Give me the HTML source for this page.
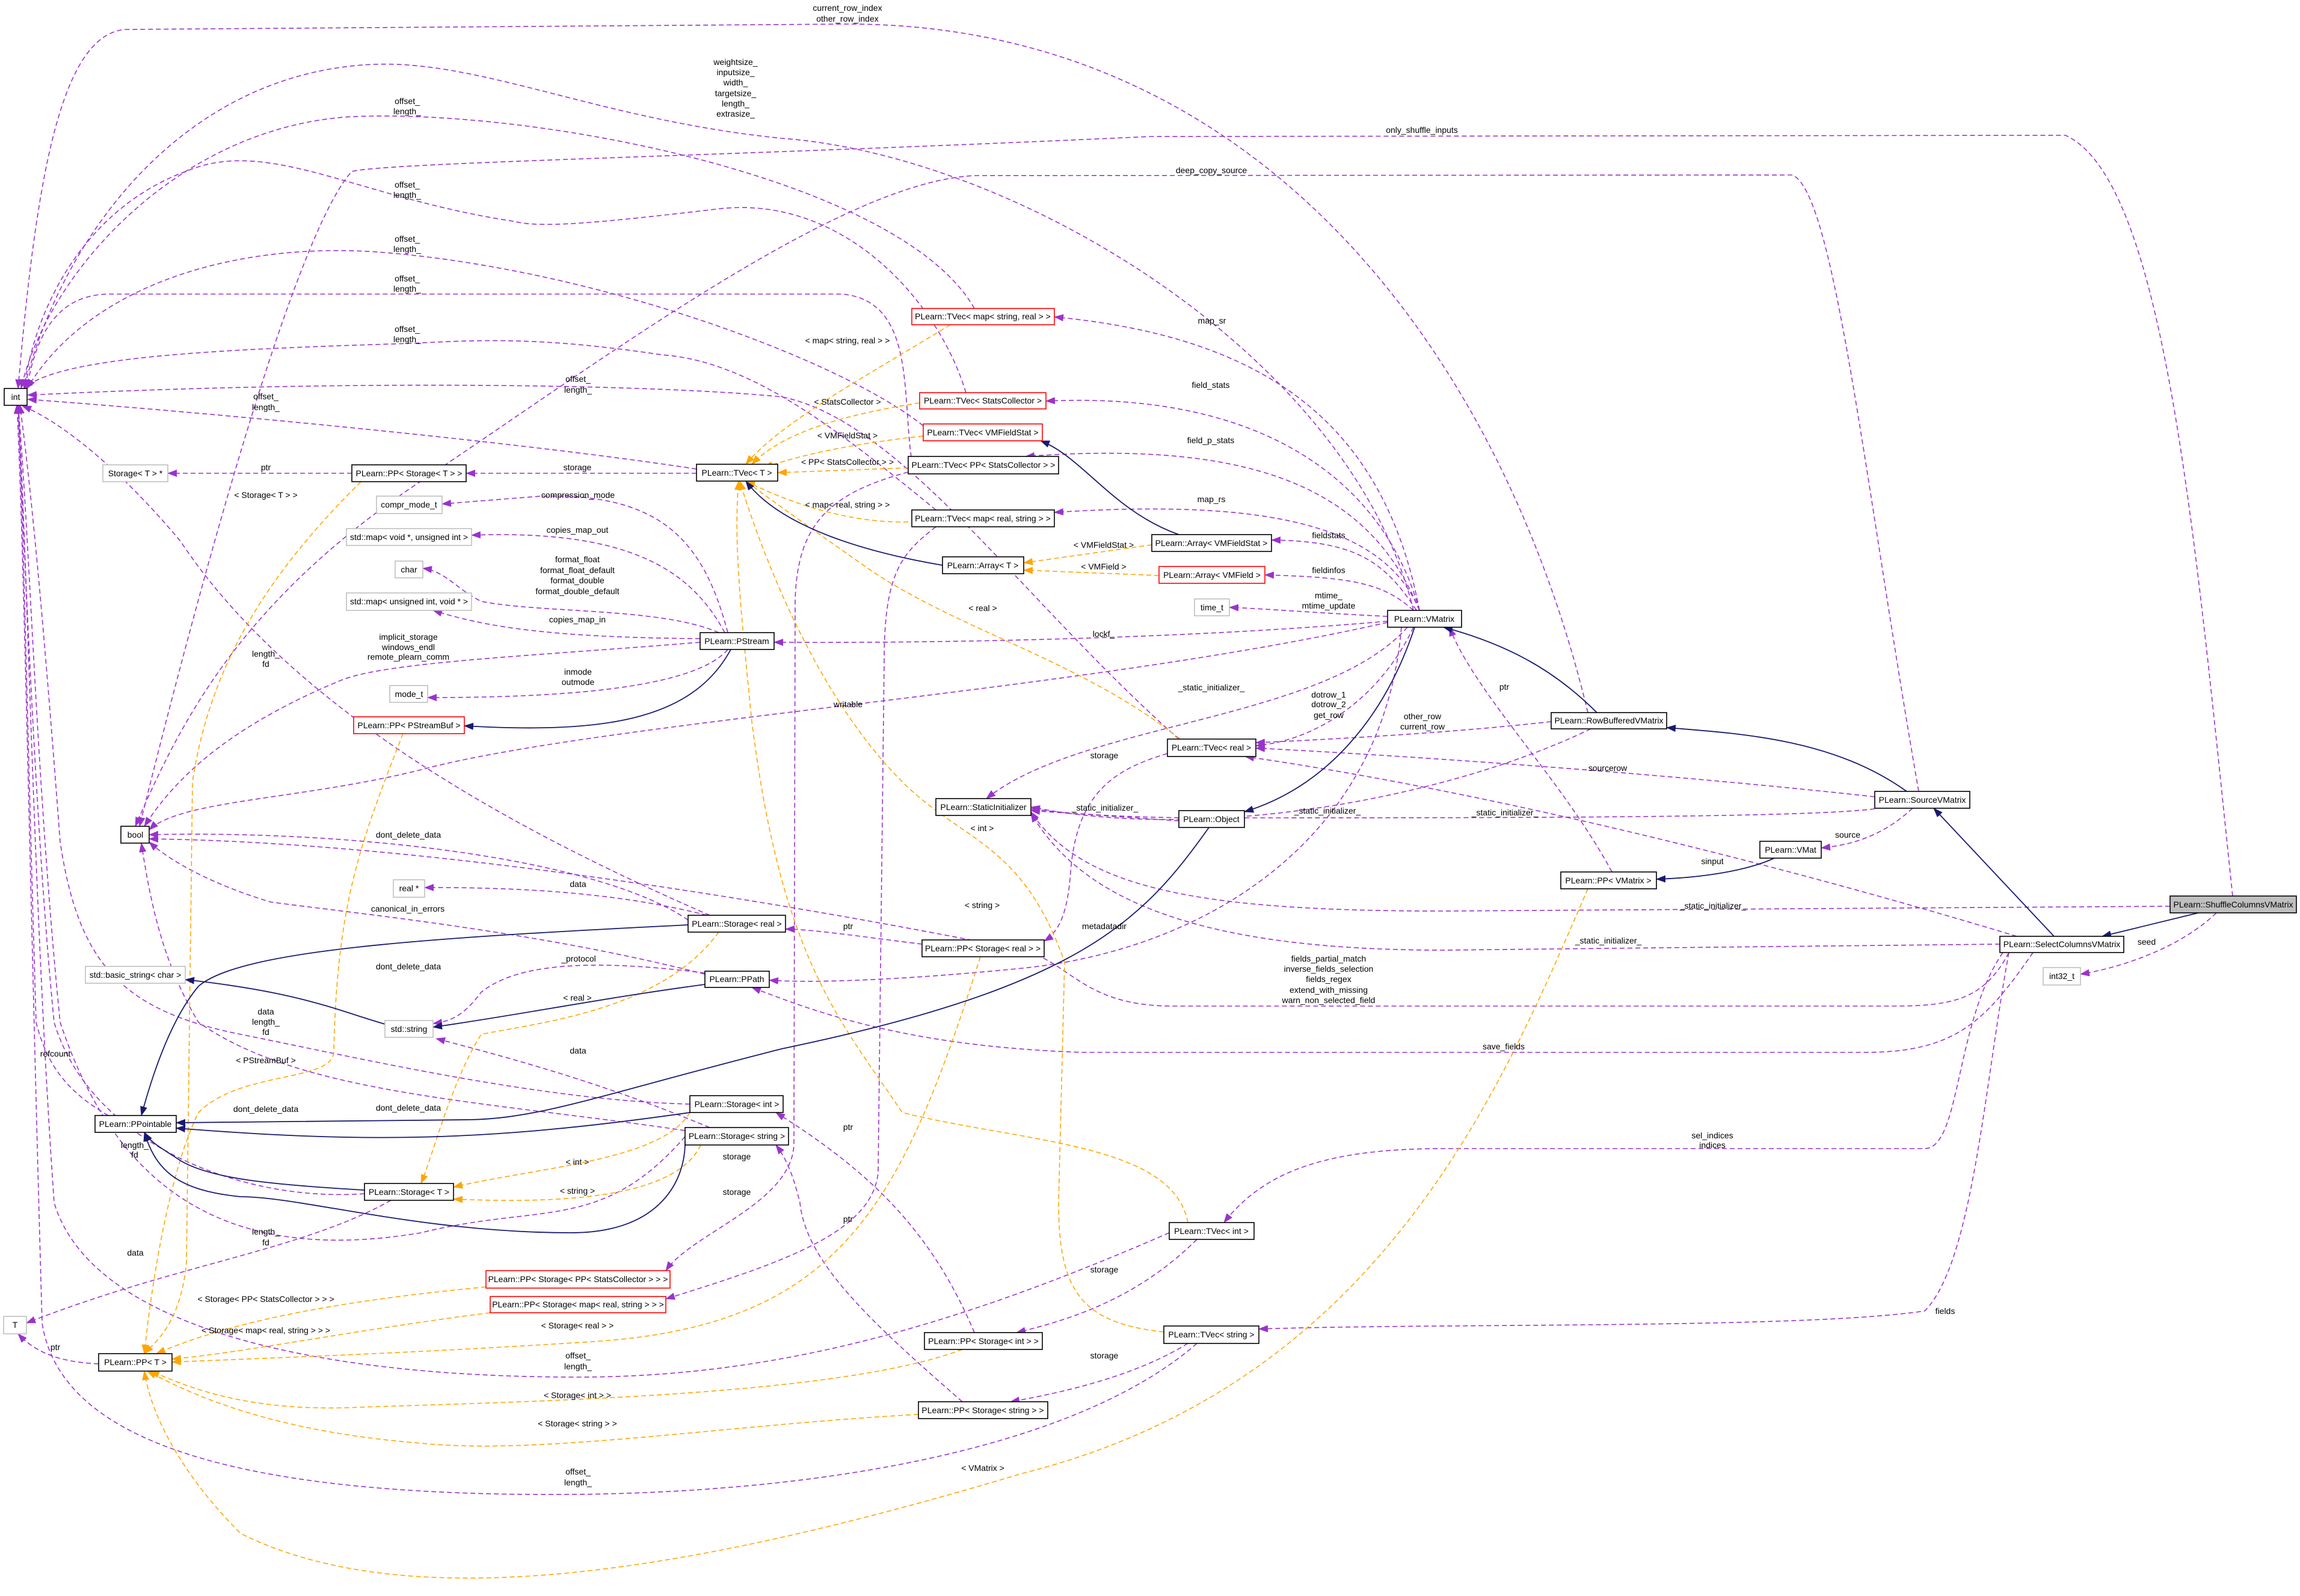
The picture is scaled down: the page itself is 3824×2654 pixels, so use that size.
<!DOCTYPE html>
<html><head><meta charset="utf-8"><style>
html,body{margin:0;padding:0;background:#fff;}
svg{display:block;}
text{font-family:"Liberation Sans",sans-serif;font-size:14px;fill:#000;}
.p{fill:none;stroke:#9a32cd;stroke-width:1.6;stroke-dasharray:8,5;}
.o{fill:none;stroke:#ffa500;stroke-width:1.6;stroke-dasharray:8,5;}
.n{fill:none;stroke:#191970;stroke-width:1.8;}
.b{fill:#fff;stroke:#000;stroke-width:1.6;}
.g{fill:#fff;stroke:#bfbfbf;stroke-width:1.6;}
.r{fill:#fff;stroke:#ff0000;stroke-width:1.6;}
.s{fill:#bfbfbf;stroke:#000;stroke-width:1.6;}
.l{text-anchor:middle;}
</style></head><body>
<svg width="3824" height="2654" viewBox="0 0 3824 2654" xmlns="http://www.w3.org/2000/svg">
<defs>
<marker id="mp" markerUnits="userSpaceOnUse" markerWidth="16" markerHeight="12" refX="15" refY="6" orient="auto"><path d="M0,0 L16,6 L0,12 z" fill="#9a32cd"/></marker>
<marker id="mo" markerUnits="userSpaceOnUse" markerWidth="16" markerHeight="12" refX="15" refY="6" orient="auto"><path d="M0,0 L16,6 L0,12 z" fill="#ffa500"/></marker>
<marker id="mn" markerUnits="userSpaceOnUse" markerWidth="16" markerHeight="12" refX="15" refY="6" orient="auto"><path d="M0,0 L16,6 L0,12 z" fill="#191970"/></marker>
</defs>
<g marker-end="url(#mp)">
<path class="p" d="M2640,1185 C2500,600 2100,40 1409,40 L207,49 C100,60 60,300 30,646"/>
<path class="p" d="M2350,1015 C2250,600 1700,260 1300,230 C1000,200 800,100 622,107 C300,120 100,400 40,646"/>
<path class="p" d="M1620,513 C1500,300 900,180 585,194 C300,210 80,450 35,646"/>
<path class="p" d="M1606,653 C1560,500 1400,320 1189,348 C1000,370 900,380 854,368 C600,330 450,230 317,282 C150,340 60,500 40,646"/>
<path class="p" d="M1535,708 C1400,600 1000,450 640,420 C400,400 150,470 45,646"/>
<path class="p" d="M1515,760 C1500,650 1520,500 1400,489 L183,489 C100,489 60,550 45,646"/>
<path class="p" d="M1556,848 C1400,720 1250,600 1100,590 C900,560 800,565 683,571 C400,580 100,590 40,646"/>
<path class="p" d="M1960,1229 C1700,1000 1500,700 1300,660 C1100,640 600,630 46,657"/>
<path class="p" d="M1158,780 C900,740 400,690 46,664"/>
<path class="p" d="M606,1985 C400,2000 150,1900 90,1700 C60,1400 40,900 30,673"/>
<path class="p" d="M1180,1522 C900,1400 500,1200 300,900 C200,780 100,700 37,675"/>
<path class="p" d="M1147,1836 C900,1830 600,1760 400,1720 C200,1680 130,1600 100,1400 C70,1000 50,800 33,673"/>
<path class="p" d="M1139,1890 C1000,2050 900,2000 700,2050 C400,2100 200,2000 100,1700 C60,1300 50,900 30,673"/>
<path class="p" d="M1944,2050 C1600,2200 1300,2290 961,2290 C500,2290 150,2200 90,2000 C55,1500 45,900 30,673"/>
<path class="p" d="M1990,2234 C1800,2400 1400,2480 961,2485 C400,2490 100,2400 70,2200 C50,1500 40,900 28,673"/>
<path class="p" d="M180,1855 C120,1820 80,1780 60,1700 C45,1200 40,900 30,673"/>
<path class="p" d="M650,1996 C500,2080 300,2100 44,2200"/>
<path class="p" d="M164,2268 C100,2265 60,2250 30,2218"/>
<path class="p" d="M2307,1035 C1800,1150 1000,1200 700,1280 C500,1330 300,1330 248,1380"/>
<path class="p" d="M1164,1068 C900,1090 650,1100 570,1130 C400,1200 300,1280 240,1374"/>
<path class="p" d="M1144,1530 C1000,1430 600,1380 248,1388"/>
<path class="p" d="M1172,1620 C900,1550 600,1520 450,1500 C350,1470 280,1430 248,1400"/>
<path class="p" d="M1139,1880 C800,1830 500,1820 330,1700 C270,1600 250,1500 235,1402"/>
<path class="p" d="M3712,1490 C3650,900 3600,300 3434,225 L1912,227 C1200,260 650,270 585,285 C480,400 300,1100 232,1374"/>
<path class="p" d="M3190,1316 C3100,800 3050,320 2980,291 L1622,292 C1400,300 1000,600 700,800 C400,1000 300,1200 225,1374"/>
<path class="p" d="M2360,1015 C2300,700 2100,560 1753,527"/>
<path class="p" d="M2360,1015 C2300,800 2100,650 1739,667"/>
<path class="p" d="M2360,1015 C2280,820 2100,730 1705,759"/>
<path class="p" d="M2360,1015 C2300,870 2100,830 1753,852"/>
<path class="p" d="M2355,1015 C2300,930 2250,900 2114,898"/>
<path class="p" d="M2350,1015 C2300,970 2250,960 2103,956"/>
<path class="p" d="M2307,1025 C2200,1020 2100,1012 2044,1010"/>
<path class="p" d="M2307,1033 C2000,1060 1600,1070 1287,1068"/>
<path class="p" d="M2350,1043 C2300,1150 2200,1230 2088,1240"/>
<path class="p" d="M2340,1043 C2200,1200 1800,1200 1640,1328"/>
<path class="p" d="M2330,1043 C2300,1400 2000,1580 1700,1610 C1500,1630 1350,1635 1279,1630"/>
<path class="p" d="M2680,1450 C2600,1300 2450,1150 2410,1043"/>
<path class="p" d="M2579,1200 C2400,1220 2200,1230 2088,1235"/>
<path class="p" d="M2645,1212 C2400,1330 2000,1400 1714,1342"/>
<path class="p" d="M3117,1325 C2800,1290 2400,1260 2088,1244"/>
<path class="p" d="M3117,1345 C3000,1360 2500,1360 2000,1360 C1850,1360 1750,1350 1714,1345"/>
<path class="p" d="M3180,1344 C3130,1390 3080,1405 3028,1410"/>
<path class="p" d="M3608,1507 L2400,1515 C2000,1515 1800,1480 1714,1350"/>
<path class="p" d="M3685,1518 C3620,1580 3520,1610 3459,1620"/>
<path class="p" d="M3353,1557 C3000,1450 2500,1320 2070,1258"/>
<path class="p" d="M3325,1570 L2400,1580 C2000,1580 1800,1500 1714,1352"/>
<path class="p" d="M3340,1584 C3300,1660 3250,1673 3150,1673 L1950,1673 C1800,1673 1780,1600 1700,1580 C1300,1500 700,1400 248,1395"/>
<path class="p" d="M3380,1584 C3300,1700 3250,1750 3100,1750 L1800,1750 C1500,1740 1350,1680 1250,1642"/>
<path class="p" d="M3330,1584 C3250,1700 3260,1910 3200,1910 L2400,1910 C2200,1910 2100,1950 2035,2033"/>
<path class="p" d="M3340,1584 C3300,1800 3280,2100 3200,2180 C3000,2210 2400,2200 2093,2210"/>
<path class="p" d="M585,787 L279,787"/>
<path class="p" d="M1158,787 L775,787"/>
<path class="p" d="M1210,1052 C1170,900 1100,820 900,825 L735,838"/>
<path class="p" d="M1205,1052 C1150,950 1050,880 784,890"/>
<path class="p" d="M1195,1052 C1100,1010 900,1020 800,1000 C760,980 740,950 703,945"/>
<path class="p" d="M1164,1062 C900,1060 800,1040 720,1015"/>
<path class="p" d="M1210,1080 C1150,1150 900,1160 711,1160"/>
<path class="p" d="M1175,1522 C1050,1490 900,1475 706,1476"/>
<path class="p" d="M1172,1618 C950,1590 850,1610 800,1650 C770,1690 750,1698 720,1702"/>
<path class="p" d="M1180,1875 C1000,1800 850,1760 725,1727"/>
<path class="p" d="M1960,1365 L1714,1348"/>
<path class="p" d="M1941,1253 C1850,1280 1790,1320 1780,1450 C1775,1520 1760,1550 1736,1565"/>
<path class="p" d="M1533,1570 C1450,1560 1350,1545 1306,1545"/>
<path class="p" d="M1990,2061 C1900,2150 1800,2190 1690,2216"/>
<path class="p" d="M1975,2234 C1900,2280 1800,2310 1680,2331"/>
<path class="p" d="M1620,2216 C1550,2050 1450,1950 1290,1850"/>
<path class="p" d="M1600,2331 C1450,2200 1340,2100 1330,2000 C1320,1960 1310,1930 1290,1904"/>
<path class="p" d="M1510,785 C1380,820 1325,870 1322,1000 L1320,1900 C1320,2000 1150,2050 1107,2113"/>
<path class="p" d="M1556,876 C1500,920 1470,950 1470,1100 L1460,1950 C1450,2050 1300,2100 1107,2160"/>
</g>
<g marker-end="url(#mo)">
<path class="o" d="M1147,1850 C1100,1930 900,1940 754,1974"/>
<path class="o" d="M1165,1904 C1120,2000 900,2000 754,1994"/>
<path class="o" d="M1195,1550 C1100,1680 900,1700 800,1720 C750,1800 720,1920 700,1968"/>
<path class="o" d="M1580,540 C1450,620 1300,700 1240,772"/>
<path class="o" d="M1529,670 C1400,690 1300,720 1250,772"/>
<path class="o" d="M1535,725 C1400,740 1320,760 1270,778"/>
<path class="o" d="M1510,778 L1293,786"/>
<path class="o" d="M1510,868 C1400,870 1300,830 1240,800"/>
<path class="o" d="M1962,1229 C1800,1100 1600,1050 1450,950 C1350,880 1280,830 1240,800"/>
<path class="o" d="M1975,2033 C1950,1900 1700,1900 1500,1850 C1400,1700 1300,1600 1250,1200 C1230,1000 1220,900 1228,800"/>
<path class="o" d="M1935,2215 C1800,2200 1760,2150 1760,2000 L1770,1600 C1700,1400 1600,1400 1500,1300 C1350,1150 1260,900 1230,800"/>
<path class="o" d="M1915,906 L1702,936"/>
<path class="o" d="M1927,957 L1702,948"/>
<path class="o" d="M600,801 C450,950 350,1100 320,1300 L310,2100 C300,2200 260,2230 240,2251"/>
<path class="o" d="M670,1220 C600,1400 560,1500 555,1750 C550,1800 400,1780 330,1850 C280,1950 250,2150 240,2251"/>
<path class="o" d="M808,2140 C600,2160 400,2190 260,2251"/>
<path class="o" d="M815,2183 C600,2210 400,2250 286,2260"/>
<path class="o" d="M1630,1591 C1500,2000 1400,2200 1000,2230 C700,2250 400,2260 286,2265"/>
<path class="o" d="M1600,2244 C1400,2320 900,2330 600,2340 C400,2350 300,2300 250,2280"/>
<path class="o" d="M1527,2352 C1200,2370 900,2420 700,2400 C450,2380 320,2320 245,2280"/>
<path class="o" d="M2640,1478 C2500,1800 2300,2300 1700,2450 C1200,2600 700,2700 400,2550 C300,2450 250,2350 240,2280"/>
</g>
<g marker-end="url(#mn)">
<path class="n" d="M1215,1080 C1150,1200 1000,1220 772,1207"/>
<path class="n" d="M640,1703 C560,1680 500,1650 308,1629"/>
<path class="n" d="M1172,1637 C1000,1660 850,1690 720,1708"/>
<path class="n" d="M1144,1538 C700,1560 400,1580 330,1640 C280,1700 250,1800 235,1855"/>
<path class="n" d="M2010,1376 C1900,1530 1800,1640 1300,1744 C1000,1820 900,1860 780,1862 L293,1867"/>
<path class="n" d="M1147,1850 C800,1900 600,1900 293,1876"/>
<path class="n" d="M1139,1898 C1140,1960 1100,2050 950,2050 C700,2050 500,1990 400,1990 C300,1980 260,1950 240,1883"/>
<path class="n" d="M606,1979 C450,1970 350,1960 300,1930 C270,1910 250,1900 240,1883"/>
<path class="n" d="M1567,940 C1450,920 1300,880 1240,800"/>
<path class="n" d="M1960,889 C1850,850 1800,760 1730,733"/>
<path class="n" d="M2352,1043 C2300,1200 2200,1310 2069,1350"/>
<path class="n" d="M2655,1185 C2580,1110 2500,1070 2400,1043"/>
<path class="n" d="M3170,1316 C3050,1230 2900,1220 2771,1210"/>
<path class="n" d="M3415,1557 L3215,1344"/>
<path class="n" d="M3655,1518 L3495,1557"/>
<path class="n" d="M2950,1427 C2900,1450 2820,1460 2754,1462"/>
</g>
<g class="lbl">
<text class="l" x="1409" y="18">current_row_index</text><text class="l" x="1409" y="36">other_row_index</text>
<text class="l" x="1223" y="108">weightsize_</text><text class="l" x="1223" y="125">inputsize_</text><text class="l" x="1223" y="142">width_</text><text class="l" x="1223" y="160">targetsize_</text><text class="l" x="1223" y="177">length_</text><text class="l" x="1223" y="194">extrasize_</text>
<text class="l" x="677" y="173">offset_</text><text class="l" x="677" y="190">length_</text>
<text class="l" x="2364" y="221">only_shuffle_inputs</text>
<text class="l" x="2014" y="288">deep_copy_source</text>
<text class="l" x="677" y="312">offset_</text><text class="l" x="677" y="329">length_</text>
<text class="l" x="677" y="402">offset_</text><text class="l" x="677" y="419">length_</text>
<text class="l" x="677" y="468">offset_</text><text class="l" x="677" y="485">length_</text>
<text class="l" x="677" y="552">offset_</text><text class="l" x="677" y="569">length_</text>
<text class="l" x="2015" y="538">map_sr</text>
<text class="l" x="1409" y="571">&lt; map&lt; string, real &gt; &gt;</text>
<text class="l" x="961" y="635">offset_</text><text class="l" x="961" y="653">length_</text>
<text class="l" x="2013" y="645">field_stats</text>
<text class="l" x="442" y="664">offset_</text><text class="l" x="442" y="682">length_</text>
<text class="l" x="1409" y="673">&lt; StatsCollector &gt;</text>
<text class="l" x="1409" y="729">&lt; VMFieldStat &gt;</text>
<text class="l" x="2013" y="737">field_p_stats</text>
<text class="l" x="1409" y="773">&lt; PP&lt; StatsCollector &gt; &gt;</text>
<text class="l" x="442" y="782">ptr</text>
<text class="l" x="960" y="782">storage</text>
<text class="l" x="442" y="828">&lt; Storage&lt; T &gt; &gt;</text>
<text class="l" x="961" y="828">compression_mode</text>
<text class="l" x="2014" y="835">map_rs</text>
<text class="l" x="1409" y="844">&lt; map&lt; real, string &gt; &gt;</text>
<text class="l" x="960" y="886">copies_map_out</text>
<text class="l" x="2209" y="895">fieldstats</text>
<text class="l" x="1835" y="911">&lt; VMFieldStat &gt;</text>
<text class="l" x="960" y="935">format_float</text><text class="l" x="960" y="953">format_float_default</text><text class="l" x="960" y="970">format_double</text><text class="l" x="960" y="988">format_double_default</text>
<text class="l" x="1835" y="947">&lt; VMField &gt;</text>
<text class="l" x="2209" y="953">fieldinfos</text>
<text class="l" x="2209" y="995">mtime_</text><text class="l" x="2209" y="1012">mtime_update</text>
<text class="l" x="1634" y="1016">&lt; real &gt;</text>
<text class="l" x="960" y="1035">copies_map_in</text>
<text class="l" x="1835" y="1059">lockf_</text>
<text class="l" x="679" y="1064">implicit_storage</text><text class="l" x="679" y="1081">windows_endl</text><text class="l" x="679" y="1097">remote_plearn_comm</text>
<text class="l" x="442" y="1092">length_</text><text class="l" x="442" y="1109">fd</text>
<text class="l" x="961" y="1122">inmode</text><text class="l" x="961" y="1139">outmode</text>
<text class="l" x="2501" y="1147">ptr</text>
<text class="l" x="2014" y="1148">_static_initializer_</text>
<text class="l" x="2209" y="1160">dotrow_1</text><text class="l" x="2209" y="1176">dotrow_2</text><text class="l" x="2209" y="1194">get_row</text>
<text class="l" x="1410" y="1176">writable</text>
<text class="l" x="2365" y="1196">other_row</text><text class="l" x="2365" y="1213">current_row</text>
<text class="l" x="1836" y="1261">storage</text>
<text class="l" x="2673" y="1282">sourcerow</text>
<text class="l" x="1837" y="1348">_static_initializer_</text>
<text class="l" x="2207" y="1353">_static_initializer_</text>
<text class="l" x="2502" y="1356">_static_initializer_</text>
<text class="l" x="1633" y="1382">&lt; int &gt;</text>
<text class="l" x="679" y="1393">dont_delete_data</text>
<text class="l" x="3072" y="1393">source</text>
<text class="l" x="2847" y="1437">sinput</text>
<text class="l" x="961" y="1475">data</text>
<text class="l" x="1633" y="1510">&lt; string &gt;</text>
<text class="l" x="2848" y="1511">_static_initializer_</text>
<text class="l" x="678" y="1516">canonical_in_errors</text>
<text class="l" x="1410" y="1545">ptr</text>
<text class="l" x="1836" y="1545">metadatadir</text>
<text class="l" x="2674" y="1569">_static_initializer_</text>
<text class="l" x="3569" y="1571">seed</text>
<text class="l" x="962" y="1599">_protocol</text>
<text class="l" x="2209" y="1599">fields_partial_match</text><text class="l" x="2209" y="1616">inverse_fields_selection</text><text class="l" x="2209" y="1633">fields_regex</text><text class="l" x="2209" y="1651">extend_with_missing</text><text class="l" x="2209" y="1668">warn_non_selected_field</text>
<text class="l" x="679" y="1612">dont_delete_data</text>
<text class="l" x="960" y="1664">&lt; real &gt;</text>
<text class="l" x="442" y="1687">data</text><text class="l" x="442" y="1704">length_</text><text class="l" x="442" y="1721">fd</text>
<text class="l" x="2500" y="1745">save_fields</text>
<text class="l" x="961" y="1752">data</text>
<text class="l" x="92" y="1757">refcount</text>
<text class="l" x="442" y="1768">&lt; PStreamBuf &gt;</text>
<text class="l" x="442" y="1849">dont_delete_data</text>
<text class="l" x="679" y="1847">dont_delete_data</text>
<text class="l" x="1410" y="1879">ptr</text>
<text class="l" x="2847" y="1893">sel_indices</text><text class="l" x="2847" y="1909">indices</text>
<text class="l" x="224" y="1909">length_</text><text class="l" x="224" y="1925">fd</text>
<text class="l" x="1225" y="1928">storage</text>
<text class="l" x="960" y="1937">&lt; int &gt;</text>
<text class="l" x="960" y="1985">&lt; string &gt;</text>
<text class="l" x="1225" y="1987">storage</text>
<text class="l" x="1410" y="2032">ptr</text>
<text class="l" x="442" y="2053">length_</text><text class="l" x="442" y="2071">fd</text>
<text class="l" x="225" y="2088">data</text>
<text class="l" x="1836" y="2116">storage</text>
<text class="l" x="442" y="2165">&lt; Storage&lt; PP&lt; StatsCollector &gt; &gt; &gt;</text>
<text class="l" x="3234" y="2185">fields</text>
<text class="l" x="960" y="2209">&lt; Storage&lt; real &gt; &gt;</text>
<text class="l" x="442" y="2217">&lt; Storage&lt; map&lt; real, string &gt; &gt; &gt;</text>
<text class="l" x="92" y="2245">ptr</text>
<text class="l" x="1836" y="2259">storage</text>
<text class="l" x="961" y="2259">offset_</text><text class="l" x="961" y="2277">length_</text>
<text class="l" x="960" y="2325">&lt; Storage&lt; int &gt; &gt;</text>
<text class="l" x="960" y="2372">&lt; Storage&lt; string &gt; &gt;</text>
<text class="l" x="1634" y="2446">&lt; VMatrix &gt;</text>
<text class="l" x="961" y="2452">offset_</text><text class="l" x="961" y="2470">length_</text>
</g>
<g>
<rect class="b" x="7" y="646" width="38" height="28"/><text class="l" x="26" y="665">int</text>
<rect class="g" x="171" y="773" width="108" height="28"/><text class="l" x="225" y="792">Storage&lt; T &gt; *</text>
<rect class="b" x="585" y="773" width="190" height="28"/><text class="l" x="680" y="792">PLearn::PP&lt; Storage&lt; T &gt; &gt;</text>
<rect class="g" x="626" y="825" width="109" height="29"/><text class="l" x="680" y="844">compr_mode_t</text>
<rect class="g" x="576" y="879" width="208" height="28"/><text class="l" x="680" y="898">std::map&lt; void *, unsigned int &gt;</text>
<rect class="g" x="657" y="933" width="46" height="28"/><text class="l" x="680" y="952">char</text>
<rect class="g" x="576" y="986" width="208" height="29"/><text class="l" x="680" y="1005">std::map&lt; unsigned int, void * &gt;</text>
<rect class="g" x="648" y="1140" width="63" height="28"/><text class="l" x="680" y="1159">mode_t</text>
<rect class="r" x="588" y="1192" width="184" height="28"/><text class="l" x="680" y="1211">PLearn::PP&lt; PStreamBuf &gt;</text>
<rect class="b" x="201" y="1374" width="47" height="28"/><text class="l" x="225" y="1393">bool</text>
<rect class="g" x="654" y="1463" width="52" height="29"/><text class="l" x="680" y="1482">real *</text>
<rect class="g" x="142" y="1607" width="166" height="28"/><text class="l" x="225" y="1626">std::basic_string&lt; char &gt;</text>
<rect class="g" x="640" y="1697" width="80" height="28"/><text class="l" x="680" y="1716">std::string</text>
<rect class="b" x="158" y="1855" width="135" height="28"/><text class="l" x="225" y="1874">PLearn::PPointable</text>
<rect class="g" x="6" y="2189" width="38" height="29"/><text class="l" x="25" y="2208">T</text>
<rect class="b" x="164" y="2251" width="122" height="29"/><text class="l" x="225" y="2270">PLearn::PP&lt; T &gt;</text>
<rect class="b" x="606" y="1968" width="148" height="28"/><text class="l" x="680" y="1987">PLearn::Storage&lt; T &gt;</text>
<rect class="r" x="808" y="2113" width="306" height="29"/><text class="l" x="961" y="2132">PLearn::PP&lt; Storage&lt; PP&lt; StatsCollector &gt; &gt; &gt;</text>
<rect class="r" x="815" y="2156" width="292" height="27"/><text class="l" x="961" y="2174">PLearn::PP&lt; Storage&lt; map&lt; real, string &gt; &gt; &gt;</text>
<rect class="b" x="1158" y="772" width="135" height="28"/><text class="l" x="1225" y="791">PLearn::TVec&lt; T &gt;</text>
<rect class="b" x="1164" y="1052" width="123" height="28"/><text class="l" x="1225" y="1071">PLearn::PStream</text>
<rect class="b" x="1144" y="1522" width="162" height="28"/><text class="l" x="1225" y="1541">PLearn::Storage&lt; real &gt;</text>
<rect class="b" x="1172" y="1615" width="107" height="27"/><text class="l" x="1225" y="1633">PLearn::PPath</text>
<rect class="b" x="1147" y="1822" width="155" height="28"/><text class="l" x="1225" y="1841">PLearn::Storage&lt; int &gt;</text>
<rect class="b" x="1139" y="1875" width="172" height="29"/><text class="l" x="1225" y="1894">PLearn::Storage&lt; string &gt;</text>
<rect class="r" x="1516" y="513" width="237" height="27"/><text class="l" x="1634" y="531">PLearn::TVec&lt; map&lt; string, real &gt; &gt;</text>
<rect class="r" x="1529" y="653" width="210" height="27"/><text class="l" x="1634" y="671">PLearn::TVec&lt; StatsCollector &gt;</text>
<rect class="r" x="1535" y="705" width="198" height="28"/><text class="l" x="1634" y="724">PLearn::TVec&lt; VMFieldStat &gt;</text>
<rect class="b" x="1510" y="759" width="250" height="29"/><text class="l" x="1635" y="778">PLearn::TVec&lt; PP&lt; StatsCollector &gt; &gt;</text>
<rect class="b" x="1516" y="848" width="237" height="28"/><text class="l" x="1634" y="867">PLearn::TVec&lt; map&lt; real, string &gt; &gt;</text>
<rect class="b" x="1567" y="926" width="135" height="28"/><text class="l" x="1634" y="945">PLearn::Array&lt; T &gt;</text>
<rect class="b" x="1556" y="1328" width="158" height="28"/><text class="l" x="1635" y="1347">PLearn::StaticInitializer</text>
<rect class="b" x="1533" y="1563" width="203" height="28"/><text class="l" x="1634" y="1582">PLearn::PP&lt; Storage&lt; real &gt; &gt;</text>
<rect class="b" x="1537" y="2216" width="196" height="28"/><text class="l" x="1635" y="2235">PLearn::PP&lt; Storage&lt; int &gt; &gt;</text>
<rect class="b" x="1527" y="2331" width="215" height="28"/><text class="l" x="1634" y="2350">PLearn::PP&lt; Storage&lt; string &gt; &gt;</text>
<rect class="b" x="1915" y="889" width="199" height="28"/><text class="l" x="2014" y="908">PLearn::Array&lt; VMFieldStat &gt;</text>
<rect class="r" x="1927" y="942" width="176" height="28"/><text class="l" x="2015" y="961">PLearn::Array&lt; VMField &gt;</text>
<rect class="g" x="1986" y="996" width="58" height="28"/><text class="l" x="2015" y="1015">time_t</text>
<rect class="b" x="1941" y="1229" width="147" height="29"/><text class="l" x="2014" y="1248">PLearn::TVec&lt; real &gt;</text>
<rect class="b" x="1960" y="1348" width="109" height="28"/><text class="l" x="2014" y="1367">PLearn::Object</text>
<rect class="b" x="1944" y="2033" width="141" height="28"/><text class="l" x="2014" y="2052">PLearn::TVec&lt; int &gt;</text>
<rect class="b" x="1935" y="2205" width="158" height="29"/><text class="l" x="2014" y="2224">PLearn::TVec&lt; string &gt;</text>
<rect class="b" x="2307" y="1015" width="123" height="28"/><text class="l" x="2368" y="1034">PLearn::VMatrix</text>
<rect class="b" x="2579" y="1185" width="192" height="27"/><text class="l" x="2675" y="1203">PLearn::RowBufferedVMatrix</text>
<rect class="b" x="2595" y="1450" width="159" height="28"/><text class="l" x="2674" y="1469">PLearn::PP&lt; VMatrix &gt;</text>
<rect class="b" x="2926" y="1399" width="102" height="28"/><text class="l" x="2977" y="1418">PLearn::VMat</text>
<rect class="b" x="3117" y="1316" width="158" height="28"/><text class="l" x="3196" y="1335">PLearn::SourceVMatrix</text>
<rect class="b" x="3325" y="1557" width="206" height="27"/><text class="l" x="3428" y="1575">PLearn::SelectColumnsVMatrix</text>
<rect class="g" x="3397" y="1609" width="62" height="29"/><text class="l" x="3428" y="1628">int32_t</text>
<rect class="s" x="3608" y="1490" width="210" height="28"/><text class="l" x="3713" y="1509">PLearn::ShuffleColumnsVMatrix</text>
</g>
</svg>
</body></html>
